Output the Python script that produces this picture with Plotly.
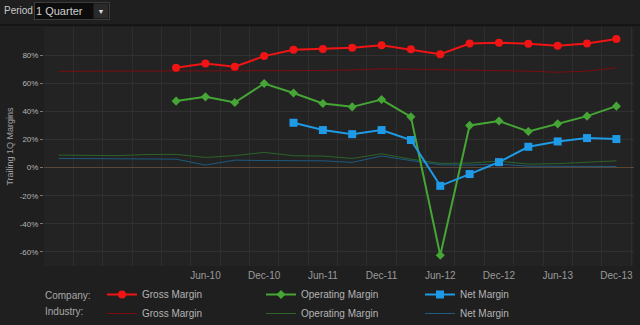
import plotly.graph_objects as go

quarters = ["Mar-09", "Jun-09", "Sep-09", "Dec-09",
            "Mar-10", "Jun-10", "Sep-10", "Dec-10",
            "Mar-11", "Jun-11", "Sep-11", "Dec-11",
            "Mar-12", "Jun-12", "Sep-12", "Dec-12",
            "Mar-13", "Jun-13", "Sep-13", "Dec-13"]

company_gross = [None, None, None, None,
                 71.0, 74.1, 71.7, 79.3, 83.8, 84.3, 85.2, 87.1,
                 84.1, 80.7, 88.3, 88.8, 88.1, 86.6, 88.3, 91.4]
company_operating = [None, None, None, None,
                     47.3, 50.3, 46.3, 59.8, 53.1, 45.6, 43.2, 48.4,
                     36.1, -62.4, 30.0, 33.1, 25.7, 31.1, 36.6, 43.7]
company_net = [None, None, None, None, None, None, None, None,
               31.9, 26.7, 23.8, 26.7, 19.6, -13.0, -4.6, 3.9,
               14.8, 18.6, 21.0, 20.3]

industry_gross = [68.5, 68.5, 68.6, 68.6, 68.5, 68.7, 68.8, 68.9, 69.0, 69.1,
                  69.4, 70.3, 70.0, 69.6, 69.4, 69.2, 68.6, 67.8, 68.6, 71.0]
industry_operating = [8.9, 8.7, 8.5, 9.3, 9.4, 7.2, 8.5, 10.8, 8.4, 8.2,
                      6.5, 9.8, 6.0, 3.0, 3.2, 4.6, 2.5, 2.8, 3.8, 4.8]
industry_net = [6.5, 6.4, 6.3, 6.1, 6.0, 1.8, 5.3, 5.0, 4.8, 4.8,
                3.7, 8.2, 5.0, 2.0, 1.8, 2.5, 1.0, 1.0, 0.8, 0.8]

x_tick_labels = ["Jun-10", "Dec-10", "Jun-11", "Dec-11", "Jun-12", "Dec-12", "Jun-13", "Dec-13"]
y_ticks = [-60, -40, -20, 0, 20, 40, 60, 80]

xidx = list(range(len(quarters)))
x_tick_vals = [quarters.index(q) for q in x_tick_labels]

FONT = "Liberation Sans"
W, H = 640, 325
ML, MR, MT, MB = 44, 6, 27, 59
PW, PH = W - ML - MR, H - MT - MB


def px_x(p):
    return (p - ML) / PW


def px_y(p):
    return (H - MB - p) / PH


fig = go.Figure()

# company series (drawn on top via zorder)
fig.add_trace(go.Scatter(x=xidx, y=company_gross, mode="lines+markers", name="Gross Margin",
                         line=dict(color="#f01414", width=2),
                         marker=dict(symbol="circle", size=8, color="#f01414"),
                         zorder=1, hoverinfo="skip"))
fig.add_trace(go.Scatter(x=xidx, y=company_operating, mode="lines+markers", name="Operating Margin",
                         line=dict(color="#45a535", width=2),
                         marker=dict(symbol="diamond", size=7, color="#45a535"),
                         zorder=1, hoverinfo="skip"))
fig.add_trace(go.Scatter(x=xidx, y=company_net, mode="lines+markers", name="Net Margin",
                         line=dict(color="#1e9ae6", width=2),
                         marker=dict(symbol="square", size=8, color="#1e9ae6"),
                         zorder=1, hoverinfo="skip"))

# industry series (underneath)
fig.add_trace(go.Scatter(x=xidx, y=industry_gross, mode="lines", name="Gross Margin",
                         line=dict(color="#7c0c10", width=1), zorder=0,
                         hoverinfo="skip"))
fig.add_trace(go.Scatter(x=xidx, y=industry_operating, mode="lines", name="Operating Margin",
                         line=dict(color="#2c6428", width=1), zorder=0,
                         hoverinfo="skip"))
fig.add_trace(go.Scatter(x=xidx, y=industry_net, mode="lines", name="Net Margin",
                         line=dict(color="#1d5a80", width=1), zorder=0,
                         hoverinfo="skip"))

fig.update_layout(
    width=W, height=H,
    margin=dict(l=ML, r=MR, t=MT, b=MB, autoexpand=False),
    paper_bgcolor="#1f1f1f",
    plot_bgcolor="#232323",
    font=dict(family=FONT, color="#aaaaaa"),
    showlegend=True,
    legend=dict(orientation="h", yanchor="top", xanchor="left",
                x=px_x(102), y=px_y(280),
                entrywidth=114, entrywidthmode="pixels", traceorder="normal",
                bgcolor="rgba(0,0,0,0)", font=dict(family=FONT, size=10, color="#b4b4b4"),
                tracegroupgap=0, itemclick=False, itemdoubleclick=False),
    xaxis=dict(
        range=[-0.5, 19.6],
        tickmode="array", tickvals=x_tick_vals, ticktext=x_tick_labels,
        tickfont=dict(family=FONT, size=10, color="#9a9a9a"),
        showgrid=False, zeroline=False,
        showline=True, linecolor="#3a3a3a", linewidth=1,
        ticks="", fixedrange=True,
        minor=dict(tick0=0.5, dtick=1, showgrid=True, gridcolor="#2e2e2e", gridwidth=1, ticks=""),
    ),
    yaxis=dict(
        range=[-70, 100],
        tickmode="array", tickvals=y_ticks, ticktext=[f"{v}%" for v in y_ticks],
        tickfont=dict(family=FONT, size=8, color="#b4b4b4"),
        ticks="outside", ticklen=3, tickcolor="#777777",
        showgrid=True, gridcolor="#303030", gridwidth=1,
        zeroline=True, zerolinecolor="#5a4636", zerolinewidth=1,
        showline=True, linecolor="#3a3a3a", linewidth=1,
        title=dict(text="Trailing 1Q Margins", font=dict(family=FONT, size=9, color="#a0a0a0"),
                   standoff=4),
        fixedrange=True,
    ),
    shapes=[
        dict(type="line", xref="paper", yref="paper", x0=px_x(0), x1=px_x(W),
             y0=px_y(25), y1=px_y(25), line=dict(color="#151515", width=2)),
    ],
    annotations=[
        dict(text="Period", xref="paper", yref="paper", x=px_x(2), y=px_y(10.5),
             xanchor="left", yanchor="middle", showarrow=False,
             font=dict(family=FONT, size=10, color="#c8c8c8")),
        dict(text="1 Quarter", xref="paper", yref="paper", x=px_x(34), y=px_y(10.5),
             xanchor="left", yanchor="middle", showarrow=False, align="left",
             width=72, height=14, bgcolor="#0c0c0c", bordercolor="#3c3c3c",
             borderwidth=1, borderpad=1,
             font=dict(family=FONT, size=11, color="#d0d0d0")),
        dict(text="▼", xref="paper", yref="paper", x=px_x(101), y=px_y(10.5),
             xanchor="center", yanchor="middle", showarrow=False,
             width=12, height=12, bgcolor="#2a2a2a",
             font=dict(family=FONT, size=7, color="#e0e0e0")),
        dict(text="Company:", xref="paper", yref="paper", x=px_x(43), y=px_y(295),
             xanchor="left", yanchor="middle", showarrow=False,
             font=dict(family=FONT, size=10, color="#a8a8a8")),
        dict(text="Industry:", xref="paper", yref="paper", x=px_x(43), y=px_y(311),
             xanchor="left", yanchor="middle", showarrow=False,
             font=dict(family=FONT, size=10, color="#a8a8a8")),
    ],
)

fig.write_html("out.html", config={"displayModeBar": False})
